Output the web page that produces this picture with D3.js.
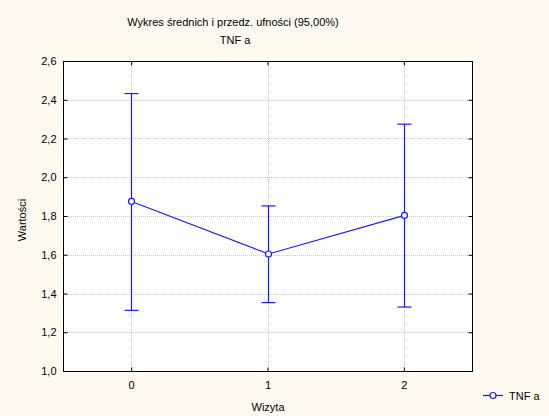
<!DOCTYPE html>
<html><head><meta charset="utf-8">
<script src="https://cdn.jsdelivr.net/npm/d3@7"></script>
<style>
html,body{margin:0;padding:0;background:#fffaf0;}
svg{display:block;}
text{font-family:"Liberation Sans",Arial,sans-serif;fill:#000;}
</style></head>
<body>
<script>
const categories = ["0","1","2"];
const means = [1.875, 1.604, 1.803];
const upper = [2.432, 1.852, 2.274];
const lower = [1.313, 1.353, 1.330];
const yTicks = [1.0, 1.2, 1.4, 1.6, 1.8, 2.0, 2.2, 2.4, 2.6];
const seriesName = "TNF a";
const title1 = "Wykres średnich i przedz. ufności (95,00%)";
const title2 = "TNF a";
const xLabel = "Wizyta";
const yLabel = "Wartości";

const W = 549, H = 416;
const m = {left: 63, right: 472, top: 61, bottom: 371};
const blue = "#1a1aff";

const svg = d3.select("body").append("svg").attr("width", W).attr("height", H);
svg.append("rect").attr("width", W).attr("height", H).attr("fill", "#fffaf0");

const x = d3.scaleLinear().domain([-0.5, 2.5]).range([m.left, m.right]);
const y = d3.scaleLinear().domain([1.0, 2.6]).range([m.bottom, m.top]);
const xi = categories.map((c, i) => i);

svg.append("rect").attr("x", m.left).attr("y", m.top)
  .attr("width", m.right - m.left).attr("height", m.bottom - m.top).attr("fill", "#fff");

// grid
const grid = svg.append("g").attr("stroke", "#c8c8c8").attr("stroke-dasharray", "1,1").attr("stroke-width", 1);
yTicks.slice(1, -1).forEach(v => {
  grid.append("line").attr("x1", m.left).attr("x2", m.right)
    .attr("y1", Math.round(y(v)) + 0.5).attr("y2", Math.round(y(v)) + 0.5);
});
xi.forEach(v => {
  grid.append("line").attr("y1", m.top).attr("y2", m.bottom)
    .attr("x1", Math.round(x(v)) + 0.5).attr("x2", Math.round(x(v)) + 0.5);
});

// axes
const fmt = d => d3.format(".1f")(d).replace(".", ",");
const yAxis = d3.axisLeft(y).tickValues(yTicks).tickSize(-4).tickPadding(7).tickFormat(fmt);
const yAxisR = d3.axisRight(y).tickValues(yTicks).tickSize(-4).tickFormat("");
const xAxis = d3.axisBottom(x).tickValues(xi).tickSize(-4).tickPadding(10).tickFormat(i => categories[i]);
const xAxisT = d3.axisTop(x).tickValues(xi).tickSize(-4).tickFormat("");

function styleAxis(g){
  g.select(".domain").remove();
  g.selectAll("line").attr("stroke", "#000");
  g.selectAll("text").attr("font-size", 11).attr("font-family", "Liberation Sans, Arial, sans-serif");
}
svg.append("g").attr("transform", `translate(${m.left+0.5},0)`).call(yAxis).call(styleAxis);
svg.append("g").attr("transform", `translate(${m.right+0.5},0)`).call(yAxisR).call(styleAxis);
svg.append("g").attr("transform", `translate(0,${m.bottom+0.5})`).call(xAxis).call(styleAxis);
svg.append("g").attr("transform", `translate(0,${m.top+0.5})`).call(xAxisT).call(styleAxis);

svg.append("rect").attr("x", m.left + 0.5).attr("y", m.top + 0.5)
  .attr("width", m.right - m.left).attr("height", m.bottom - m.top)
  .attr("fill", "none").attr("stroke", "#000").attr("stroke-width", 1);

// error bars
const eb = svg.append("g").attr("stroke", blue).attr("stroke-width", 1.2);
xi.forEach(i => {
  const cx = Math.round(x(i)) + 0.5;
  eb.append("line").attr("x1", cx).attr("x2", cx).attr("y1", y(upper[i])).attr("y2", y(lower[i]));
  eb.append("line").attr("x1", cx - 7).attr("x2", cx + 7).attr("y1", y(upper[i])).attr("y2", y(upper[i]));
  eb.append("line").attr("x1", cx - 7).attr("x2", cx + 7).attr("y1", y(lower[i])).attr("y2", y(lower[i]));
});

// line
const line = d3.line().x(i => Math.round(x(i)) + 0.5).y(i => y(means[i]));
svg.append("path").datum(xi).attr("d", line).attr("fill", "none").attr("stroke", blue).attr("stroke-width", 1.2);
svg.append("g").selectAll("circle").data(xi).join("circle")
  .attr("cx", i => Math.round(x(i)) + 0.5).attr("cy", i => y(means[i])).attr("r", 3)
  .attr("fill", "#fff").attr("stroke", blue).attr("stroke-width", 1.2);

// titles
svg.append("text").attr("x", 233).attr("y", 26).attr("text-anchor", "middle").attr("font-size", 11).text(title1);
svg.append("text").attr("x", 235).attr("y", 44).attr("text-anchor", "middle").attr("font-size", 11).text(title2);
svg.append("text").attr("x", 268).attr("y", 411).attr("text-anchor", "middle").attr("font-size", 11).text(xLabel);
svg.append("text").attr("transform", `translate(26,220) rotate(-90)`).attr("text-anchor", "middle").attr("font-size", 11).text(yLabel);

// legend
const lg = svg.append("g");
lg.append("line").attr("x1", 483).attr("x2", 503).attr("y1", 395.5).attr("y2", 395.5).attr("stroke", blue).attr("stroke-width", 1.2);
lg.append("circle").attr("cx", 493).attr("cy", 395.5).attr("r", 3).attr("fill", "#fff").attr("stroke", blue).attr("stroke-width", 1.2);
lg.append("text").attr("x", 509).attr("y", 399.5).attr("font-size", 11).text(seriesName);
</script>
</body></html>
